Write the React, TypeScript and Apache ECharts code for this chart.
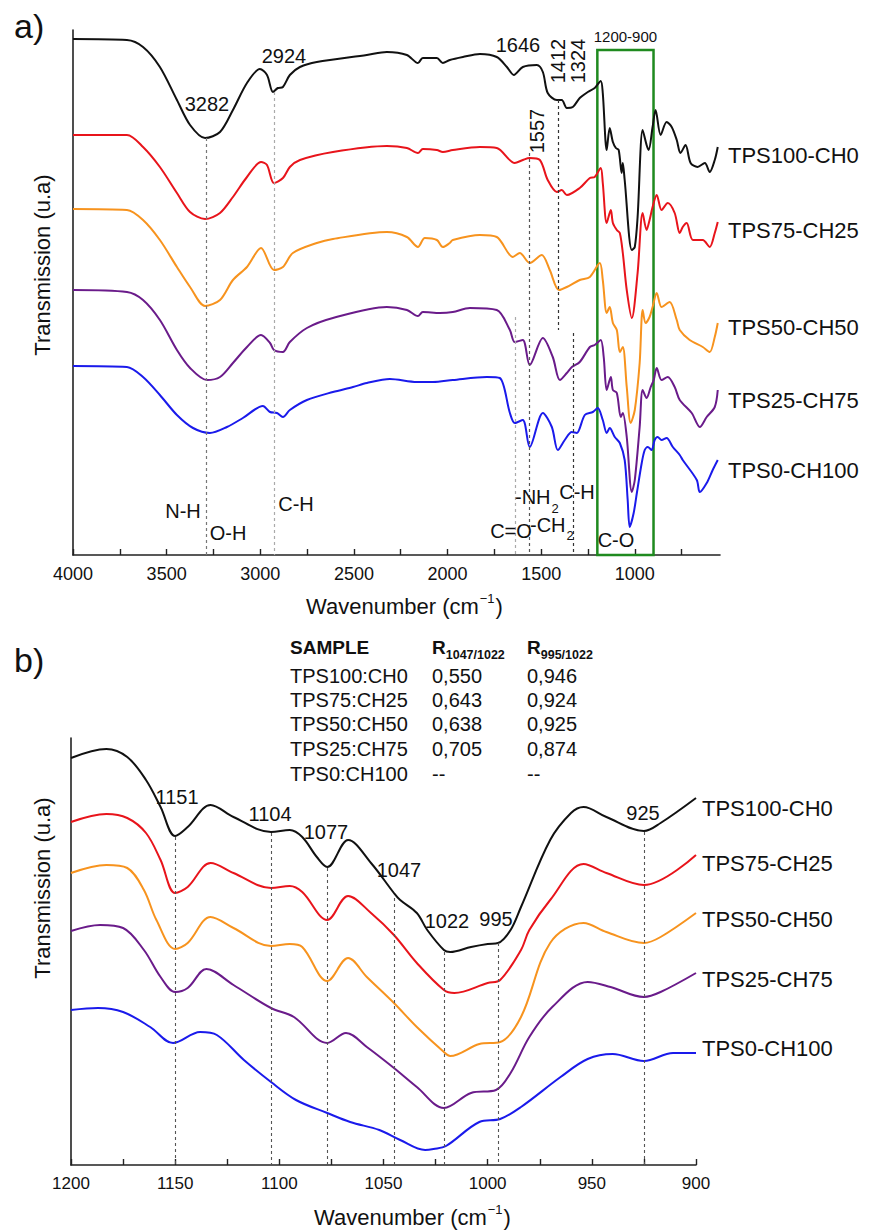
import React, { useEffect, useRef } from 'react';
import * as echarts from 'echarts';

const FONT = '"Liberation Sans", Arial, Helvetica, sans-serif';

const sampleLabels = ['TPS100-CH0', 'TPS75-CH25', 'TPS50-CH50', 'TPS25-CH75', 'TPS0-CH100'];
const curveColors = ['#111111', '#e8141b', '#f7931e', '#6a1b8a', '#1a1aeb'];

// ---------- Panel a : full spectra [wavenumber, transmission (a.u., offset)] ----------
const a_TPS100_CH0 = [
  [4000, 516], [3712, 515], [3626, 508], [3536, 488], [3445, 455], [3375, 430], [3295, 417], [3215, 423],
  [3146, 445], [3071, 472], [3002, 486], [2964, 480], [2932, 463], [2906, 467], [2879, 468], [2842, 480],
  [2788, 488], [2698, 493], [2431, 500], [2324, 503], [2217, 500], [2158, 492], [2132, 497], [2057, 497],
  [2025, 492], [1988, 495], [1918, 498], [1827, 501], [1737, 498], [1683, 488], [1646, 480], [1598, 488],
  [1523, 490], [1491, 483], [1465, 462], [1416, 455], [1390, 455], [1363, 447], [1331, 448], [1294, 457],
  [1251, 463], [1214, 467], [1182, 474], [1171, 462], [1150, 405], [1134, 427], [1117, 413], [1101, 407],
  [1086, 405], [1070, 382], [1064, 392], [1054, 375], [1016, 305], [1000, 308], [985, 338], [958, 425],
  [937, 410], [926, 405], [905, 428], [889, 445], [862, 420], [830, 433], [803, 428], [776, 415],
  [756, 402], [729, 410], [702, 392], [665, 388], [626, 392], [600, 383], [573, 395], [557, 408],
];
const a_TPS75_CH25 = [
  [4000, 420], [3712, 420], [3626, 408], [3536, 388], [3445, 362], [3375, 343], [3295, 336], [3215, 342],
  [3146, 358], [3071, 378], [2996, 393], [2964, 390], [2927, 372], [2879, 377], [2842, 388], [2788, 395],
  [2612, 403], [2324, 409], [2217, 407], [2158, 402], [2132, 406], [2057, 405], [2025, 403], [1972, 405],
  [1827, 408], [1737, 407], [1641, 392], [1598, 395], [1561, 397], [1507, 395], [1465, 375], [1416, 363],
  [1390, 365], [1363, 360], [1294, 367], [1240, 377], [1214, 378], [1182, 387], [1171, 372], [1150, 332],
  [1128, 345], [1117, 332], [1096, 325], [1080, 322], [1064, 302], [1043, 265], [1016, 237], [985, 282],
  [958, 342], [937, 325], [921, 335], [905, 348], [883, 360], [857, 345], [824, 352], [787, 342],
  [760, 322], [744, 328], [723, 332], [690, 315], [637, 315], [600, 308], [573, 322], [557, 333],
];
const a_TPS50_CH50 = [
  [4000, 346], [3712, 345], [3626, 335], [3536, 315], [3445, 288], [3375, 268], [3295, 249], [3215, 255],
  [3146, 275], [3071, 288], [2996, 307], [2927, 285], [2879, 288], [2826, 302], [2698, 312], [2612, 316],
  [2324, 323], [2217, 318], [2158, 308], [2121, 317], [2057, 315], [2025, 308], [1988, 312], [1972, 315],
  [1827, 320], [1737, 318], [1651, 298], [1614, 302], [1561, 292], [1497, 300], [1454, 285], [1405, 265],
  [1363, 268], [1294, 275], [1240, 278], [1187, 292], [1171, 275], [1150, 242], [1134, 248], [1117, 232],
  [1096, 225], [1080, 203], [1064, 208], [1043, 168], [1022, 132], [1000, 145], [974, 192], [958, 245],
  [942, 232], [921, 238], [905, 248], [883, 262], [857, 248], [814, 253], [776, 235], [760, 225],
  [707, 215], [637, 208], [600, 203], [573, 218], [557, 232],
];
const a_TPS25_CH75 = [
  [4000, 265], [3712, 263], [3626, 255], [3536, 235], [3445, 205], [3375, 187], [3285, 175], [3215, 178],
  [3146, 192], [3071, 208], [2996, 220], [2948, 212], [2927, 205], [2879, 203], [2842, 213], [2751, 227],
  [2612, 237], [2324, 248], [2217, 245], [2158, 239], [2132, 243], [2041, 242], [1972, 243], [1881, 247],
  [1737, 245], [1667, 225], [1641, 213], [1598, 215], [1561, 190], [1491, 217], [1438, 198], [1400, 175],
  [1363, 182], [1336, 188], [1294, 193], [1240, 208], [1214, 210], [1182, 215], [1166, 198], [1150, 165],
  [1128, 178], [1117, 165], [1096, 162], [1075, 138], [1064, 142], [1043, 118], [1016, 63], [1000, 75],
  [974, 128], [958, 165], [937, 157], [915, 168], [899, 175], [883, 187], [857, 175], [824, 178],
  [787, 168], [760, 155], [696, 142], [653, 128], [616, 138], [573, 148], [557, 165],
];
const a_TPS0_CH100 = [
  [4000, 189], [3712, 188], [3626, 178], [3536, 160], [3445, 140], [3359, 127], [3269, 122], [3178, 128],
  [3093, 137], [2986, 149], [2948, 143], [2911, 142], [2879, 138], [2842, 145], [2751, 155], [2612, 163],
  [2505, 168], [2431, 172], [2308, 176], [2164, 173], [2078, 173], [1972, 175], [1790, 178], [1721, 177],
  [1667, 142], [1641, 132], [1598, 135], [1561, 108], [1491, 142], [1443, 128], [1411, 105], [1374, 115],
  [1336, 123], [1310, 122], [1267, 140], [1224, 143], [1198, 147], [1171, 135], [1150, 122], [1134, 127],
  [1107, 118], [1080, 112], [1054, 95], [1038, 55], [1027, 28], [1006, 42], [989, 62], [963, 92],
  [947, 105], [931, 108], [910, 105], [894, 115], [878, 118], [857, 115], [830, 117], [797, 108],
  [760, 100], [744, 95], [669, 75], [653, 63], [616, 72], [584, 85], [557, 95],
];

// ---------- Panel b : 1200-900 cm-1 zoom ----------
const b_TPS100_CH0 = [
  [1200, 407], [1183, 416], [1173, 408], [1164, 385], [1157, 358], [1150, 329], [1144, 338], [1133, 360],
  [1122, 348], [1104, 333], [1095, 335], [1089, 328], [1082, 308], [1077, 298], [1067, 325], [1056, 302],
  [1045, 272], [1042, 265], [1034, 252], [1029, 235], [1021, 215], [1018, 213], [1008, 218], [1000, 221],
  [995, 222], [989, 235], [984, 258], [970, 325], [960, 352], [954, 358], [943, 348], [925, 334],
  [917, 342], [900, 367],
];
const b_TPS75_CH25 = [
  [1200, 343], [1183, 351], [1173, 347], [1164, 332], [1157, 305], [1150, 272], [1144, 278], [1133, 302],
  [1122, 292], [1104, 277], [1095, 279], [1089, 273], [1077, 245], [1067, 269], [1056, 252], [1045, 230],
  [1034, 202], [1021, 175], [1016, 172], [1000, 182], [994, 185], [984, 215], [980, 235], [970, 265],
  [954, 301], [943, 292], [925, 280], [900, 310],
];
const b_TPS50_CH50 = [
  [1200, 292], [1183, 300], [1173, 297], [1165, 275], [1159, 245], [1150, 216], [1144, 222], [1133, 248],
  [1122, 237], [1104, 219], [1095, 221], [1089, 218], [1077, 184], [1067, 207], [1058, 188], [1045, 162],
  [1034, 138], [1021, 113], [1018, 109], [1004, 121], [994, 123], [984, 148], [970, 222], [954, 242],
  [943, 233], [925, 222], [917, 228], [900, 252],
];
const b_TPS25_CH75 = [
  [1200, 234], [1186, 240], [1175, 237], [1165, 215], [1157, 188], [1150, 173], [1144, 177], [1135, 196],
  [1122, 180], [1104, 157], [1093, 148], [1077, 122], [1068, 132], [1058, 118], [1045, 97], [1034, 78],
  [1021, 57], [1008, 72], [996, 75], [989, 92], [980, 128], [969, 158], [952, 183], [941, 178],
  [925, 168], [917, 173], [900, 192],
];
const b_TPS0_CH100 = [
  [1200, 155], [1187, 157], [1175, 153], [1162, 138], [1151, 122], [1138, 133], [1130, 130], [1117, 105],
  [1104, 83], [1092, 65], [1077, 52], [1066, 43], [1052, 35], [1042, 25], [1030, 15], [1026, 16],
  [1020, 19], [1004, 43], [994, 46], [984, 58], [965, 88], [952, 106], [940, 111], [925, 104],
  [911, 112], [900, 112],
];

const aCurves = [a_TPS100_CH0, a_TPS75_CH25, a_TPS50_CH50, a_TPS25_CH75, a_TPS0_CH100];
const bCurves = [b_TPS100_CH0, b_TPS75_CH25, b_TPS50_CH50, b_TPS25_CH75, b_TPS0_CH100];

// axis ticks / labels
const aTickValues = [4000, 3750, 3500, 3250, 3000, 2750, 2500, 2250, 2000, 1750, 1500, 1250, 1000, 750];
const aLabelValues = [4000, 3500, 3000, 2500, 2000, 1500, 1000];

// dashed peak markers: [wavenumber, top value, colour, bottom value]
const aMarkers = [[3290, 417, '#777'], [2927, 463, '#aaa'], [1641, 238, '#aaa'], [1561, 402, '#555'], [1411, 455, '#333', 225], [1331, 222, '#333']];
const bMarkers = [[1150, 328], [1104, 332], [1077, 297], [1045, 267], [1021, 213], [995, 222], [925, 333]];

// table
const tableSamples = ['TPS100:CH0', 'TPS75:CH25', 'TPS50:CH50', 'TPS25:CH75', 'TPS0:CH100'];
const ratio1047 = ['0,550', '0,643', '0,638', '0,705', '--'];
const ratio995 = ['0,946', '0,924', '0,925', '0,874', '--'];

let measureCtx: CanvasRenderingContext2D | null = null;
function tw(text: string, size: number, weight: string = 'normal'): number {
  if (!measureCtx) measureCtx = document.createElement('canvas').getContext('2d');
  if (!measureCtx) return text.length * size * 0.55;
  measureCtx.font = `${weight} ${size}px ${FONT}`;
  return measureCtx.measureText(text).width;
}

function txt(text: string, x: number, y: number, size: number, align: string = 'center', extra: any = {}) {
  return {
    type: 'text',
    x,
    y,
    rotation: extra.rotation || 0,
    silent: true,
    z: 100,
    style: {
      text,
      fontSize: size,
      fontFamily: FONT,
      fontWeight: extra.weight || 'normal',
      fill: '#111',
      align,
      verticalAlign: 'middle',
    },
  };
}

function buildGraphics() {
  const g: any[] = [];
  g.push(txt('a)', 14, 26, 34, 'left'));
  g.push(txt('b)', 14, 660, 34, 'left'));
  g.push(txt('Transmission (u.a)', 42, 265, 22, 'center', { rotation: Math.PI / 2 }));
  g.push(txt('Transmission (u.a)', 42, 888, 22, 'center', { rotation: Math.PI / 2 }));
  const main = 'Wavenumber (cm';
  const w1 = tw(main, 22);
  const w2 = tw('\u22121', 13);
  [[306, 606], [314, 1217]].forEach(([x0, yc]) => {
    g.push(txt(main, x0, yc, 22, 'left'));
    g.push(txt('\u22121', x0 + w1 + 1, yc - 8, 13, 'left'));
    g.push(txt(')', x0 + w1 + w2 + 2, yc, 22, 'left'));
  });
  g.push(txt('3282', 207, 104, 20));
  g.push(txt('2924', 284, 56, 20));
  g.push(txt('1646', 518, 45, 20));
  g.push(txt('1412', 558, 61, 20, 'center', { rotation: Math.PI / 2 }));
  g.push(txt('1324', 578, 61, 20, 'center', { rotation: Math.PI / 2 }));
  g.push(txt('1557', 537, 131, 20, 'center', { rotation: Math.PI / 2 }));
  g.push(txt('N-H', 183, 511, 20));
  g.push(txt('O-H', 228, 533, 20));
  g.push(txt('C-H', 296, 504, 20));
  g.push(txt('-NH', 515, 497, 20, 'left'));
  g.push(txt('2', 515 + tw('-NH', 20) + 1, 508, 13, 'left'));
  g.push(txt('C-H', 577, 492, 20));
  g.push(txt('C=O', 511, 531, 20));
  g.push(txt('-CH', 530, 525, 20, 'left'));
  g.push(txt('2', 530 + tw('-CH', 20) + 1, 535, 13, 'left'));
  g.push(txt('C-O', 616, 540, 20));
  const aY = [155, 230, 327, 400, 470];
  const bY = [808, 863, 919, 979, 1048];
  sampleLabels.forEach((s, i) => {
    g.push(txt(s, 728, aY[i], 22, 'left'));
    g.push(txt(s, 702, bY[i], 22, 'left'));
  });
  const bPeak = [['1151', 177, 797], ['1104', 270, 814], ['1077', 326, 832], ['1047', 399, 870], ['1022', 447, 921], ['995', 496, 919], ['925', 643, 813]];
  bPeak.forEach(([t, x, y]) => g.push(txt(t as string, x as number, y as number, 20)));
  g.push(txt('SAMPLE', 290, 647, 19, 'left', { weight: 'bold' }));
  const rW = tw('R', 19, 'bold');
  g.push(txt('R', 432, 647, 19, 'left', { weight: 'bold' }));
  g.push(txt('1047/1022', 432 + rW, 655, 12.5, 'left', { weight: 'bold' }));
  g.push(txt('R', 527, 647, 19, 'left', { weight: 'bold' }));
  g.push(txt('995/1022', 527 + rW, 655, 12.5, 'left', { weight: 'bold' }));
  const rowY = [676, 700, 724, 749, 774];
  tableSamples.forEach((s, i) => {
    g.push(txt(s, 290, rowY[i], 20, 'left'));
    g.push(txt(ratio1047[i], 432, rowY[i], 20, 'left'));
    g.push(txt(ratio995[i], 527, rowY[i], 20, 'left'));
  });
  return g;
}

export default function App() {
  const ref = useRef<HTMLDivElement>(null);
  useEffect(() => {
    if (!ref.current) return;
    const chart = echarts.init(ref.current, null, { renderer: 'svg' });

    const axisLine = { show: true, lineStyle: { color: '#222', width: 1.6 } };
    const plain = (v: number) => String(v);
    const series: any[] = [];
    aCurves.forEach((d, i) => {
      const s: any = {
        type: 'line',
        name: 'a-' + sampleLabels[i],
        xAxisIndex: 0,
        yAxisIndex: 0,
        data: d,
        showSymbol: false,
        smooth: 0.3,
        lineStyle: { color: curveColors[i], width: 2 },
        itemStyle: { color: curveColors[i] },
        z: 3,
      };
      if (i === 0) {
        s.markLine = {
          silent: true,
          symbol: ['none', 'none'],
          label: { show: false },
          data: aMarkers.map((m: any) => [
            { coord: [m[0], m[1]], lineStyle: { color: m[2], type: [3, 3], width: 1.2 } },
            { coord: [m[0], m[3] !== undefined ? m[3] : 0] },
          ]),
        };
        s.markArea = {
          silent: true,
          itemStyle: { color: 'rgba(0,0,0,0)', borderColor: '#1f8a1f', borderWidth: 2.5 },
          label: { show: true, position: 'top', distance: 5, formatter: '1200-900', fontSize: 15, fontFamily: FONT, color: '#111' },
          data: [[{ xAxis: 1200, yAxis: 0 }, { xAxis: 900, yAxis: 505 }]],
        };
      }
      series.push(s);
    });
    bCurves.forEach((d, i) => {
      const s: any = {
        type: 'line',
        name: 'b-' + sampleLabels[i],
        xAxisIndex: 1,
        yAxisIndex: 1,
        data: d,
        showSymbol: false,
        smooth: 0.35,
        lineStyle: { color: curveColors[i], width: 2 },
        itemStyle: { color: curveColors[i] },
        z: 3,
      };
      if (i === 0) {
        s.markLine = {
          silent: true,
          symbol: ['none', 'none'],
          label: { show: false },
          lineStyle: { color: '#555', type: [3, 3], width: 1.1 },
          data: bMarkers.map((m) => [{ coord: [m[0], m[1]] }, { coord: [m[0], 0] }]),
        };
      }
      series.push(s);
    });

    chart.setOption({
      animation: false,
      backgroundColor: '#ffffff',
      grid: [
        { left: 73, top: 30, width: 647, height: 525 },
        { left: 71, top: 738, width: 625, height: 427 },
      ],
      xAxis: [
        {
          type: 'value',
          gridIndex: 0,
          min: 545,
          max: 4000,
          inverse: true,
          axisLine,
          axisTick: { show: true, inside: true, length: 6, customValues: aTickValues, lineStyle: { color: '#222', width: 1.4 } },
          axisLabel: { show: true, customValues: aLabelValues, formatter: plain, fontSize: 18, fontFamily: FONT, color: '#111', margin: 10 },
          splitLine: { show: false },
        },
        {
          type: 'value',
          gridIndex: 1,
          min: 900,
          max: 1200,
          interval: 50,
          inverse: true,
          axisLine,
          axisTick: { show: true, inside: true, length: 6, lineStyle: { color: '#222', width: 1.4 } },
          minorTick: { show: true, splitNumber: 2, length: 6, lineStyle: { color: '#222', width: 1.4 } },
          axisLabel: { show: true, formatter: plain, fontSize: 17, fontFamily: FONT, color: '#111', margin: 10 },
          splitLine: { show: false },
          minorSplitLine: { show: false },
        },
      ],
      yAxis: [
        { type: 'value', gridIndex: 0, min: 0, max: 525, axisLine, axisTick: { show: false }, axisLabel: { show: false }, splitLine: { show: false } },
        { type: 'value', gridIndex: 1, min: 0, max: 427, axisLine, axisTick: { show: false }, axisLabel: { show: false }, splitLine: { show: false } },
      ],
      series,
      graphic: buildGraphics(),
    });
    return () => chart.dispose();
  }, []);
  return <div ref={ref} style={{ position: 'absolute', left: 0, top: 0, width: 870, height: 1231, background: '#fff' }} />;
}
